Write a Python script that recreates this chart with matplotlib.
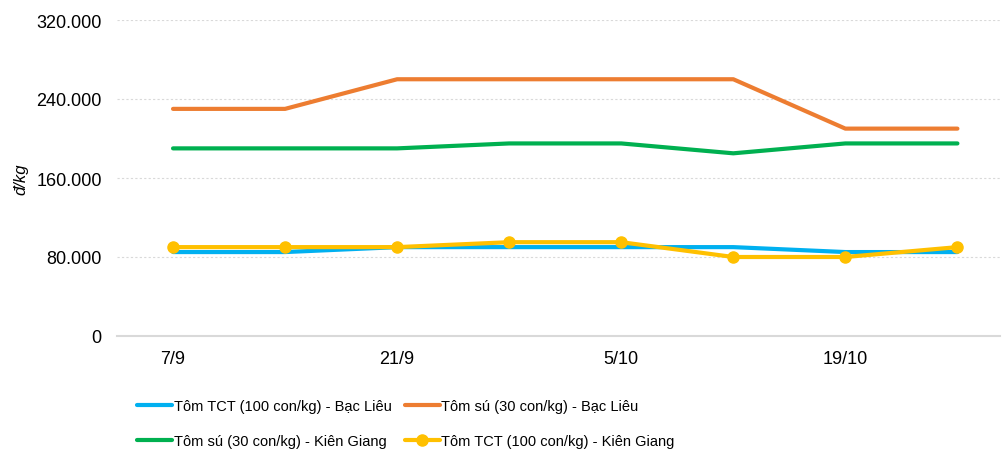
import matplotlib.pyplot as plt
import numpy as np

plt.rcParams['font.family'] = ['Liberation Sans', 'DejaVu Sans']

# du lieu
ngay = ['7/9', '14/9', '21/9', '28/9', '5/10', '12/10', '19/10', '26/10']
tct_bac_lieu = [85000, 85000, 90000, 90000, 90000, 90000, 85000, 85000]
su_bac_lieu = [230000, 230000, 260000, 260000, 260000, 260000, 210000, 210000]
su_kien_giang = [190000, 190000, 190000, 195000, 195000, 185000, 195000, 195000]
tct_kien_giang = [90000, 90000, 90000, 95000, 95000, 80000, 80000, 90000]
y_ticks = [0, 80000, 160000, 240000, 320000]
y_labels = ['0', '80.000', '160.000', '240.000', '320.000']

fig = plt.figure(figsize=(10.04, 4.52), dpi=100)
ax = fig.add_axes([117 / 1004, 1 - 337 / 452, (1000 - 117) / 1004, (337 - 21) / 452])

x = np.arange(len(ngay))
l1, = ax.plot(x, tct_bac_lieu, color='#00b0f0', lw=3, label='Tôm TCT (100 con/kg) - Bạc Liêu', solid_capstyle='round')
l2, = ax.plot(x, su_bac_lieu, color='#ed7d31', lw=3, label='Tôm sú (30 con/kg) - Bạc Liêu', solid_capstyle='round')
l3, = ax.plot(x, su_kien_giang, color='#00b050', lw=3, label='Tôm sú (30 con/kg) - Kiên Giang', solid_capstyle='round')
l4, = ax.plot(x, tct_kien_giang, color='#ffc000', lw=3, marker='o', markersize=8,
              label='Tôm TCT (100 con/kg) - Kiên Giang', solid_capstyle='round')

ax.set_xlim(-0.5, 7.38)
ax.set_ylim(0, 320000)
ax.set_yticks(y_ticks)
ax.set_yticklabels(y_labels)
ax.set_xticks(x[::2])
ax.set_xticklabels(ngay[::2])
ax.tick_params(axis='both', length=0, labelsize=13, colors='#000000')
ax.tick_params(axis='x', pad=10)
ax.tick_params(axis='y', pad=11)
ax.grid(True, axis='y', color='#d9d9d9', linestyle=(0, (2, 2)), lw=0.8)
ax.set_axisbelow(True)
for s in ['top', 'right', 'left']:
    ax.spines[s].set_visible(False)
ax.spines['bottom'].set_color('#d9d9d9')
ax.spines['bottom'].set_linewidth(1.5)
ax.set_ylabel('đ/kg', fontsize=12, style='italic')
ax.yaxis.set_label_coords(-0.1, 0.5)

# legend: 2 cot, thu tu theo hang
handles = [l1, l3, l2, l4]
fig.legend(handles=handles, labels=[h.get_label() for h in handles],
           loc='lower left', bbox_to_anchor=(124 / 1004, -0.022), ncol=2, frameon=False,
           fontsize=10.5, handlelength=2.4, handletextpad=0.1, columnspacing=0.9,
           labelspacing=1.45)

fig.savefig('out.png', dpi=100)
